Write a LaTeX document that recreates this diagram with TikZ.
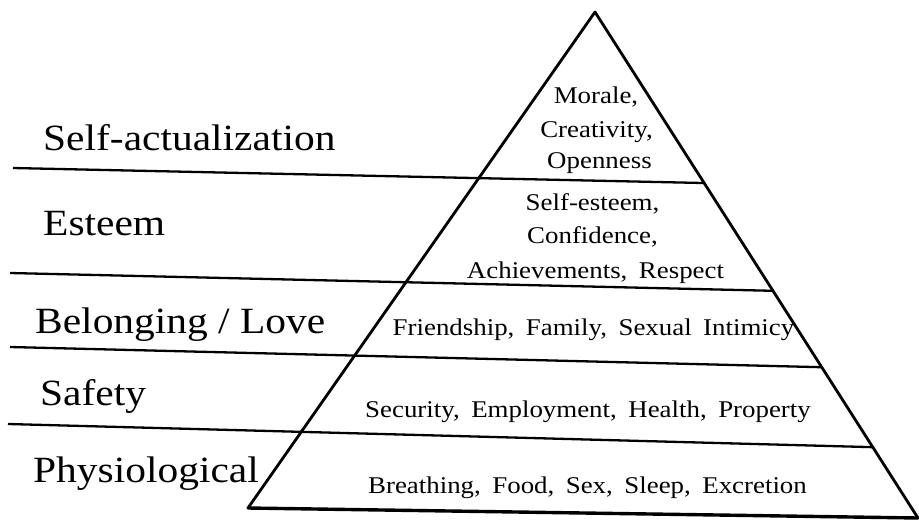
\documentclass[tikz,border=0pt]{standalone}
\usepackage{fontspec}
\setmainfont{Liberation Serif}[FakeStretch=1.12]
\usetikzlibrary{calc}
\newcommand\needfont{\fontsize{24}{28}\selectfont\spaceskip 11.5pt plus 0pt minus 0pt\relax}
\newcommand\lvlfont{\fontsize{37}{44}\selectfont}
\begin{document}
\begin{tikzpicture}[x=1pt,y=-1pt,
  edge/.style={line width=2.8pt, line cap=round, line join=round},
  base/.style={line width=3.4pt, line cap=round},
  rule/.style={line width=2.3pt},
  lvl/.style={anchor=base west, inner sep=0pt, font=\lvlfont},
  need/.style={anchor=base, inner sep=0pt, font=\needfont}]
\useasboundingbox (0,0) rectangle (919,523);
% triangle vertices
\coordinate (A) at (595,12);
\coordinate (BL) at (248,508);
\coordinate (BR) at (918,518);
% level rules
\coordinate (L1a) at (13,168);
\coordinate (L1b) at ($(A)!0.338!(BR)$);
\coordinate (L2a) at (10,273);
\coordinate (L2b) at ($(A)!0.551!(BR)$);
\coordinate (L3a) at (10,347);
\coordinate (L3b) at ($(A)!0.702!(BR)$);
\coordinate (L4a) at (8,424);
\coordinate (L4b) at ($(A)!0.860!(BR)$);
\draw[rule] (L1a) -- (L1b);
\draw[rule] (L2a) -- (L2b);
\draw[rule] (L3a) -- (L3b);
\draw[rule] (L4a) -- (L4b);
\draw[edge] (BL) -- (A) -- (BR);
\draw[base] (BL) -- (BR);
% level names
\node[lvl] (n1) at (43,150) {Self-actualization};
\node[lvl] (n2) at (43,235) {Esteem};
\node[lvl] (n3) at (35,333) {Belonging / Love};
\node[lvl] (n4) at (40,405) {Safety};
\node[lvl] (n5) at (33,482) {Physiological};
% needs
\node[need] (m1) at (596,103) {Morale,};
\node[need] (m2) at (596.5,137) {Creativity,};
\node[need] (m3) at (599.5,168) {Openness};
\node[need] (e1) at (592.5,210) {Self-esteem,};
\node[need] (e2) at (592.5,243) {Confidence,};
\node[need] (e3) at (595.5,278) {Achievements, Respect};
\node[need] (b1) at (593.5,335) {Friendship, Family, Sexual Intimicy};
\node[need] (s1) at (588,417) {Security, Employment, Health, Property};
\node[need] (p1) at (587.5,493) {Breathing, Food, Sex, Sleep, Excretion};
\end{tikzpicture}
\end{document}
